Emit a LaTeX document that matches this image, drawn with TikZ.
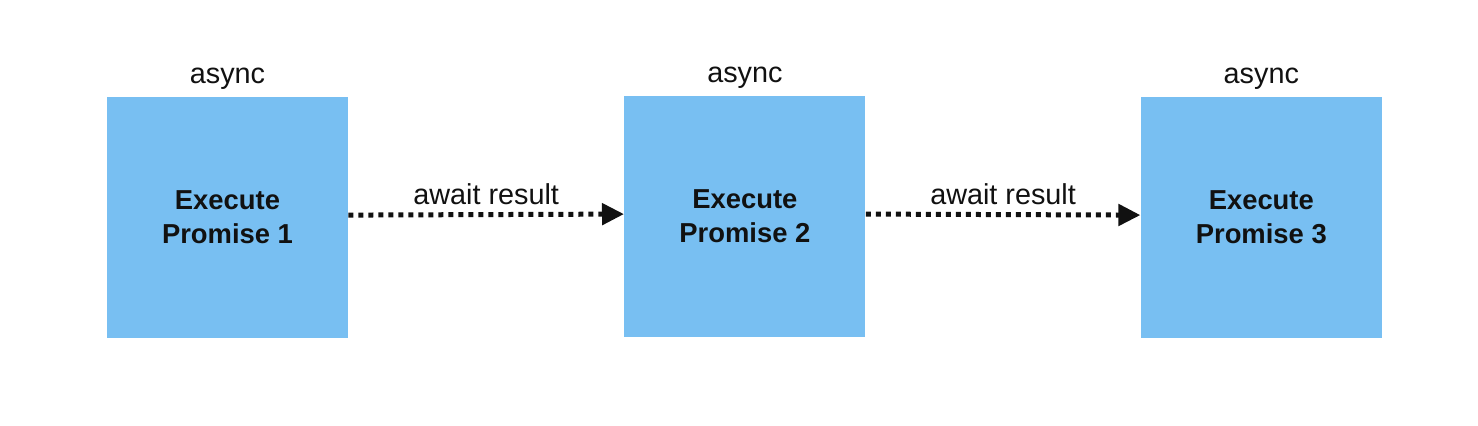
\documentclass[tikz,border=0pt]{standalone}
\usepackage{fontspec}
\setmainfont{Liberation Sans}
\usetikzlibrary{positioning, arrows.meta}

\definecolor{cBox}{HTML}{78BFF2}
\definecolor{cText}{HTML}{111111}

\tikzset{
  promisebox/.style={fill=cBox, minimum width=120.5pt, minimum height=120.5pt,
    inner sep=0pt, align=center, font=\fontsize{13.7}{17}\selectfont\bfseries, text=cText},
  asynclabel/.style={anchor=base, font=\fontsize{14.4}{17}\selectfont, text=cText},
  awaitarrow/.style={line width=2.5pt, dash pattern=on 2.5pt off 2.5pt,
    -{Triangle[length=11pt, width=10.5pt]}, cText},
  awaitlabel/.style={anchor=base, font=\fontsize{14.4}{17}\selectfont, text=cText}
}

\begin{document}
\begin{tikzpicture}[x=0.5pt, y=0.5pt]

\useasboundingbox (0,0) rectangle (1478,426);

% ── Promise boxes ──
\node[promisebox] (p1) at (227.5, 208.5) {Execute\\Promise 1};
\node[promisebox, right=137.8pt of p1, yshift=0.5pt] (p2) {Execute\\Promise 2};
\node[promisebox, right=137.3pt of p2, yshift=-0.5pt] (p3) {Execute\\Promise 3};

% ── async labels ──
\foreach \p in {p1,p2,p3}
    \node[asynclabel] (\p-async) at ([yshift=6.5pt]\p.north) {async};

% ── Connectors ──
\draw[awaitarrow] ([yshift=1.2pt]p1.east) -- ([yshift=1.2pt]p2.west)
    node[awaitlabel, midway, yshift=5pt] (a12) {await result};
\draw[awaitarrow] ([yshift=1.2pt]p2.east) -- ([yshift=1.2pt]p3.west)
    node[awaitlabel, midway, yshift=5pt] (a23) {await result};

\end{tikzpicture}
\end{document}
